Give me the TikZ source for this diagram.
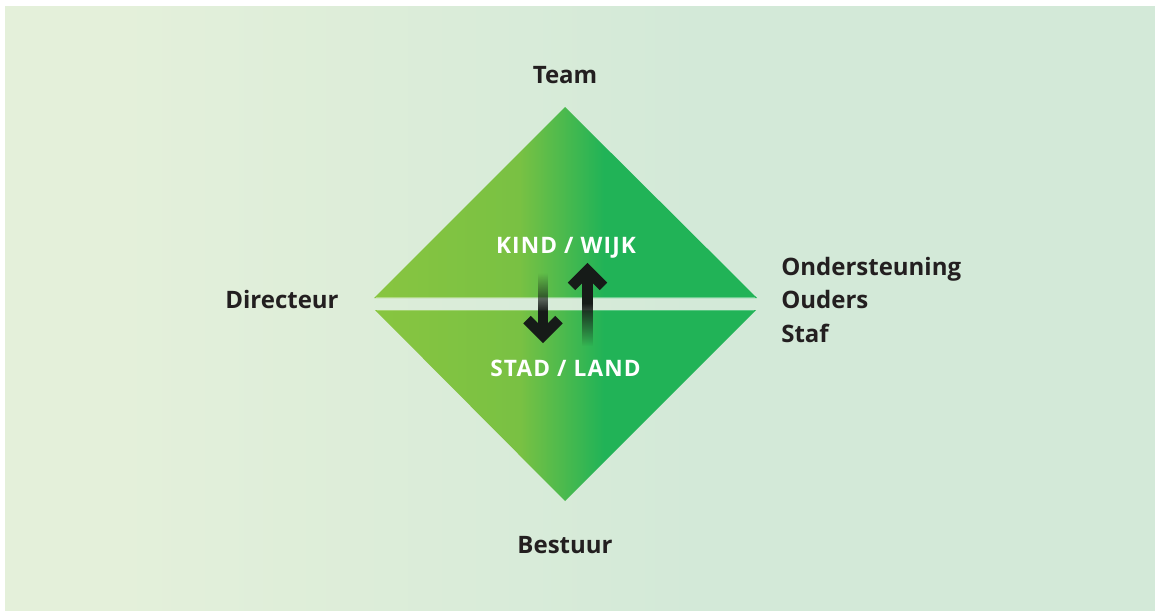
\documentclass[tikz,border=0pt]{standalone}
\usepackage{fontspec}
\setmainfont{Open Sans}
\newfontfamily\innerfont[LetterSpace=5]{Open Sans}
\usetikzlibrary{fadings,calc}
\definecolor{bgL}{HTML}{E4F0DA}
\definecolor{bgR}{HTML}{D3E9D8}
\definecolor{gA}{HTML}{88C540}
\definecolor{gB}{HTML}{79C143}
\definecolor{gC}{HTML}{21B357}
\definecolor{ink}{HTML}{231F20}
\definecolor{arrc}{HTML}{161B18}
\pgfdeclarehorizontalshading{tri}{100bp}{color(0bp)=(gA); color(25bp)=(gA); color(44bp)=(gB); color(55bp)=(gC); color(100bp)=(gC)}
\pgfdeclarehorizontalshading{bgsh}{100bp}{color(0bp)=(bgL); color(30bp)=(bgL); color(55bp)=(bgR); color(100bp)=(bgR)}
\tikzfading[name=fadetop, top color=transparent!100, bottom color=transparent!0]
\tikzfading[name=fadebot, top color=transparent!0, bottom color=transparent!100]
\begin{document}
\begin{tikzpicture}[x=0.75pt,y=-0.75pt,
  lbl/.style={text=ink, font=\bfseries\fontsize{18}{20}\selectfont, inner sep=0pt},
  inlbl/.style={text=white, font=\innerfont\bfseries\fontsize{17}{20}\selectfont, inner sep=0pt},
  arr/.style={fill=arrc},
  chev/.style={draw=arrc, line width=7.9pt, miter limit=10, line join=miter, line cap=butt}]
\useasboundingbox (0,0) rectangle (1155,610);
\fill[white] (0,0) rectangle (1155,610);
\shade[shading=bgsh] (5,7) rectangle (1155,610);
% triangles
\shade[shading=tri] (374,298) -- (565,107) -- (757,298) -- cycle;
\shade[shading=tri] (375,310) -- (756,310) -- (565,501) -- cycle;
\draw[white, opacity=0.35, line width=0.75pt] (376,297.2) -- (755,297.2);
\draw[white, opacity=0.25, line width=0.75pt] (377,310.8) -- (754,310.8);
% labels
\node[lbl, anchor=base] (team) at (565,84) {Team};
\node[lbl, anchor=base] (dir) at (282,308.5) {Directeur};
\node[lbl, anchor=base] (best) at (565,553.5) {Bestuur};
\node[lbl, anchor=base west] (ond) at (781,275) {Ondersteuning};
\node[lbl, anchor=base west] (oud) at (781,308.5) {Ouders};
\node[lbl, anchor=base west] (staf) at (781,342) {Staf};
\node[inlbl, anchor=base] (kind) at (566,253) {KIND / WIJK};
\node[inlbl, anchor=base] (stad) at (565.5,376) {STAD / LAND};
% down arrow
\fill[arr, path fading=fadetop] (538,273) rectangle (548,312);
\fill[arr] (538,311) rectangle (548,334);
\coordinate (dv) at (543,335.6);
\draw[chev] ($(dv)+(-16,-16)$) -- (dv) -- ($(dv)+(16,-16)$);
% up arrow
\fill[arr] (582,272) rectangle (593,304);
\fill[arr, path fading=fadebot] (582,303) rectangle (593,346);
\coordinate (uv) at (587.5,270.4);
\draw[chev] ($(uv)+(-16,16)$) -- (uv) -- ($(uv)+(16,16)$);
\end{tikzpicture}
\end{document}
